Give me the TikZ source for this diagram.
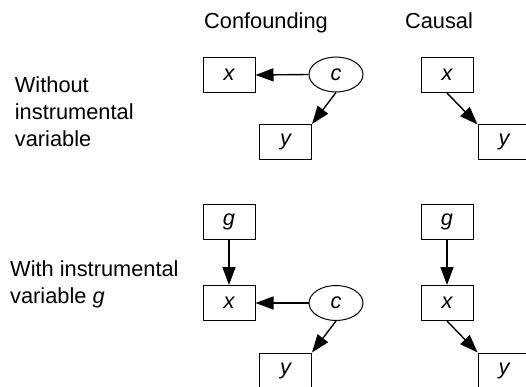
\documentclass[tikz,border=0pt]{standalone}
\usepackage{fontspec}
\setmainfont{Liberation Sans}
\usetikzlibrary{arrows.meta,shapes.geometric}
\newcommand{\figfont}{\fontsize{21.8}{26.7}\selectfont}
\tikzset{
  var/.style={draw, line width=1pt, minimum width=52pt, minimum height=35pt, inner sep=0pt, font=\figfont\itshape},
  latent/.style={draw, ellipse, line width=1pt, minimum width=54pt, minimum height=35pt, inner sep=0pt, font=\figfont\itshape},
  edge/.style={line width=1.4pt, -{Triangle[length=18pt,width=13pt]}},
  lbl/.style={inner sep=0pt, align=left, anchor=north west, font=\figfont},
  head/.style={inner sep=0pt, anchor=base, font=\figfont}
}
\begin{document}
\begin{tikzpicture}[x=1pt,y=-1pt]
\useasboundingbox (0,0) rectangle (526,387);
\clip (0,0) rectangle (526,387);
% headings
\node[head] (hconf) at (266,28.3) {Confounding};
\node[head] (hcaus) at (439,28.3) {Causal};
\node[lbl] (lwo) at (14.7,76.8) {Without\\instrumental\\variable};
\node[lbl] (lwi) at (10,260.8) {With instrumental\\variable \textit{g}};
% top confounding
\node[var] (x1) at (229,75) {x};
\node[latent] (c1) at (336,74.5) {c};
\node[var] (y1) at (285.5,142) {y};
\draw[edge] (c1.west) -- (x1.east);
\draw[edge] (c1.south) -- (y1.north east);
% top causal
\node[var] (x2) at (447,75) {x};
\node[var] (y2) at (504,142.5) {y};
\draw[edge] (x2.south) -- (y2.north west);
% bottom confounding
\node[var] (g3) at (229,221.5) {g};
\node[var] (x3) at (229,303) {x};
\node[latent] (c3) at (336,303) {c};
\node[var] (y3) at (285.5,370.5) {y};
\draw[edge] (g3.south) -- (x3.north);
\draw[edge] (c3.west) -- (x3.east);
\draw[edge] (c3.south) -- (y3.north east);
% bottom causal
\node[var] (g4) at (447,221.5) {g};
\node[var] (x4) at (447,303) {x};
\node[var] (y4) at (504,370.5) {y};
\draw[edge] (g4.south) -- (x4.north);
\draw[edge] (x4.south) -- (y4.north west);
\end{tikzpicture}
\end{document}
